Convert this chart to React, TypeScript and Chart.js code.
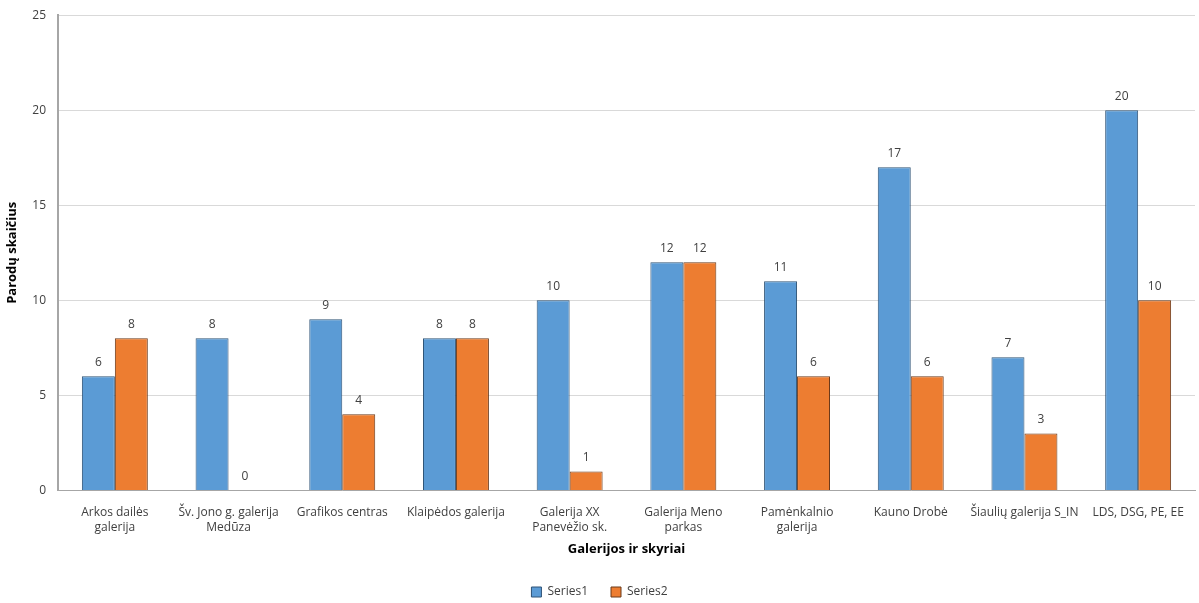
import React, { useEffect, useRef } from "react";
import { Chart, registerables } from "chart.js";

Chart.register(...registerables);

const categories: string[][] = [
  ["Arkos dailės", "galerija"],
  ["Šv. Jono g. galerija", "Medūza"],
  ["Grafikos centras"],
  ["Klaipėdos galerija"],
  ["Galerija XX", "Panevėžio sk."],
  ["Galerija Meno", "parkas"],
  ["Pamėnkalnio", "galerija"],
  ["Kauno Drobė"],
  ["Šiaulių galerija S_IN"],
  ["LDS, DSG, PE, EE"],
];
const series1: number[] = [6, 8, 9, 8, 10, 12, 11, 17, 7, 20];
const series2: number[] = [8, 0, 4, 8, 1, 12, 6, 6, 3, 10];
const yTicks: number[] = [0, 5, 10, 15, 20, 25];

const FONT = "'Open Sans', 'Noto Sans', sans-serif";

const labelPlugin = {
  id: "barLabels",
  afterDatasetsDraw(chart: any) {
    const ctx = chart.ctx;
    ctx.save();
    ctx.font = `12px ${FONT}`;
    ctx.fillStyle = "#404040";
    ctx.textAlign = "center";
    ctx.textBaseline = "bottom";
    chart.data.datasets.forEach((ds: any, i: number) => {
      const meta = chart.getDatasetMeta(i);
      meta.data.forEach((bar: any, j: number) => {
        ctx.fillText(String(ds.data[j]), bar.x, bar.y - 8);
      });
    });
    ctx.restore();
  },
};

export default function App() {
  const ref = useRef<HTMLCanvasElement>(null);
  useEffect(() => {
    if (!ref.current) return;
    const chart = new Chart(ref.current, {
      type: "bar",
      data: {
        labels: categories,
        datasets: [
          {
            label: "Series1",
            data: series1,
            backgroundColor: "#5B9BD5",
            borderColor: "#2F5376",
            borderWidth: 1,
          },
          {
            label: "Series2",
            data: series2,
            backgroundColor: "#ED7D31",
            borderColor: "#6B3A1A",
            borderWidth: 1,
          },
        ],
      },
      options: {
        animation: false,
        responsive: false,
        maintainAspectRatio: false,
        layout: { padding: { top: 10, right: 4, bottom: 0, left: 4 } },
        datasets: { bar: { categoryPercentage: 0.58, barPercentage: 1.0 } },
        plugins: {
          tooltip: { enabled: false },
          legend: {
            position: "bottom",
            labels: {
              font: { family: FONT, size: 12 },
              color: "#404040",
              boxWidth: 10,
              boxHeight: 10,
              padding: 23,
            },
          },
        },
        scales: {
          x: {
            grid: { display: false, drawTicks: false },
            border: { color: "#A6A6A6", width: 1 },
            ticks: {
              font: { family: FONT, size: 12, lineHeight: 1.3 },
              color: "#404040",
              maxRotation: 0,
              autoSkip: false,
              padding: 14,
            },
            title: {
              display: true,
              text: "Galerijos ir skyriai",
              font: { family: FONT, size: 13, weight: "bold" },
              color: "#000000",
              padding: { top: 4, bottom: 6 },
            },
            afterFit(scale: any) {
              scale.height = 72.6;
            },
          },
          y: {
            min: 0,
            max: 25,
            afterBuildTicks(scale: any) {
              scale.ticks = yTicks.map((v) => ({ value: v }));
            },
            grid: { color: "#D9D9D9", drawTicks: false },
            border: { color: "#A6A6A6", width: 2 },
            ticks: {
              font: { family: FONT, size: 12 },
              color: "#404040",
              padding: 12,
            },
            title: {
              display: true,
              text: "Parodų skaičius",
              font: { family: FONT, size: 13, weight: "bold" },
              color: "#000000",
              padding: { top: 0, bottom: 4 },
            },
            afterFit(scale: any) {
              scale.width = 54;
            },
          },
        },
      },
      plugins: [labelPlugin],
    });
    return () => chart.destroy();
  }, []);
  return (
    <div
      style={{
        position: "fixed",
        left: 0,
        top: 0,
        width: 1199,
        height: 603,
        overflow: "hidden",
        background: "#fff",
      }}
    >
      <canvas
        ref={ref}
        width={1199}
        height={612}
        style={{ position: "absolute", left: 0, top: -4 }}
      />
    </div>
  );
}
